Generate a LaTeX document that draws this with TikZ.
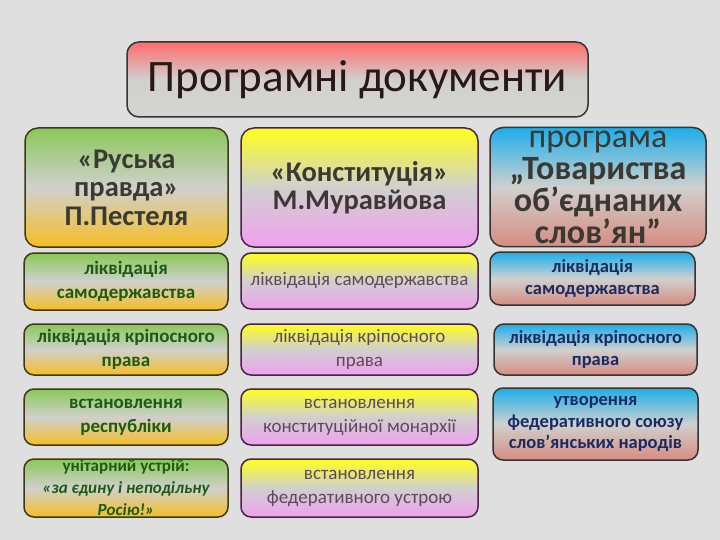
\documentclass[tikz,border=0pt]{standalone}
\usepackage{fontspec}
\setmainfont{Carlito}
\definecolor{tlo}{RGB}{223,223,223}
\definecolor{sirij}{RGB}{208,208,206}
\definecolor{chervonyj}{RGB}{255,108,108}
\definecolor{zelenyj}{RGB}{138,200,88}
\definecolor{pomaranch}{RGB}{246,190,36}
\definecolor{zhovtyj}{RGB}{255,255,30}
\definecolor{rozhevyj}{RGB}{240,160,240}
\definecolor{blakytnyj}{RGB}{28,174,234}
\definecolor{losos}{RGB}{214,140,128}
\definecolor{ramka1}{RGB}{62,56,22}
\definecolor{ramka2}{RGB}{72,34,72}
\definecolor{ramka3}{RGB}{52,52,52}
\definecolor{tekst1}{RGB}{28,92,18}
\definecolor{tekst2}{RGB}{94,74,90}
\definecolor{tekst3}{RGB}{24,44,100}
\definecolor{tekst0}{RGB}{58,58,50}
\tikzset{
  cell/.style={draw, line width=1.5pt, rounded corners=10pt, align=center,
    inner sep=0pt, minimum width=204pt},
  kol1/.style={cell, draw=ramka1, top color=zelenyj, bottom color=pomaranch,
    middle color=sirij, text=tekst1,
    font=\fontsize{19}{24}\selectfont\bfseries},
  kol2/.style={cell, draw=ramka2, top color=zhovtyj, bottom color=rozhevyj,
    middle color=sirij, text=tekst2, minimum width=237pt,
    font=\fontsize{19}{24}\selectfont},
  kol3/.style={cell, draw=ramka3, top color=blakytnyj, bottom color=losos,
    middle color=sirij, text=tekst3, minimum width=205pt,
    font=\fontsize{18.5}{21.5}\selectfont\bfseries},
  golova/.style={rounded corners=13pt, minimum height=119pt, text=tekst0,
    font=\fontsize{28.5}{28.5}\selectfont\bfseries},
  napys/.style={align=center, inner sep=0pt}
}
\begin{document}
\begin{tikzpicture}[x=1pt, y=-1pt]
    % tlo
    \fill[tlo] (0,0) rectangle (720,540);
    \useasboundingbox (0,0) rectangle (720,540);
    % zagolovok
    \node[cell, draw=ramka3, rounded corners=12pt, top color=chervonyj,
        bottom color=sirij!90!white, middle color=sirij, minimum width=461pt,
        minimum height=75pt, text={rgb,255:red,40;green,24;blue,24},
        font=\fontsize{45}{48}\selectfont] (tytul) at (357.5,79.5) {Програмні документи};
    % programy
    \node[kol1, golova, minimum width=203pt] (pestel) at (126.5,187.5)
        {«Руська\\правда»\\П.Пестеля};
    \node[kol2, golova] (muravjov) at (359.5,187.5)
        {«Конституція»\\М.Муравйова};
    \node[kol3, golova, minimum width=216pt] (slovjany) at (598,187) {};
    \node[napys, text=tekst0, font=\fontsize{34}{32}\selectfont] (slovjany-t) at (slovjany)
        {програма\\\bfseries „Товариства\\\bfseries об’єднаних\\\bfseries слов’ян”};
    % 1 - likvidacija samoderzhavstva
    \node[kol1, minimum height=57pt] (p1) at (126,281.5) {ліквідація\\самодержавства};
    \node[kol2, minimum height=56pt] (m1) at (359.5,281) {ліквідація самодержавства};
    \node[kol3, minimum height=53pt] (s1) at (592.5,278.5) {ліквідація\\самодержавства};
    % 2 - kriposne pravo
    \node[kol1, minimum height=51pt] (p2) at (126,349.5) {ліквідація кріпосного\\права};
    \node[kol2, minimum height=51pt] (m2) at (359.5,349.5) {ліквідація кріпосного\\права};
    \node[kol3, minimum height=51pt, minimum width=203pt] (s2) at (595.5,349.5)
        {ліквідація кріпосного\\права};
    % 3 - ustrij
    \node[kol1, minimum height=56pt] (p3) at (126,417) {встановлення\\республіки};
    \node[kol2, minimum height=56pt] (m3) at (359.5,417) {встановлення\\конституційної монархії};
    \node[kol3, minimum height=72pt] (s3) at (595.5,424)
        {утворення\\федеративного союзу\\слов'янських народів};
    % 4
    \node[kol1, minimum height=58pt] (p4) at (126,488) {};
    \node[napys, text=tekst1, font=\fontsize{17}{22}\selectfont\bfseries] (p4-t) at (p4)
        {унітарний устрій:\\\itshape «за єдину і неподільну\\\itshape Росію!»};
    \node[kol2, minimum height=58pt] (m4) at (359.5,488) {встановлення\\федеративного устрою};
\end{tikzpicture}
\end{document}
